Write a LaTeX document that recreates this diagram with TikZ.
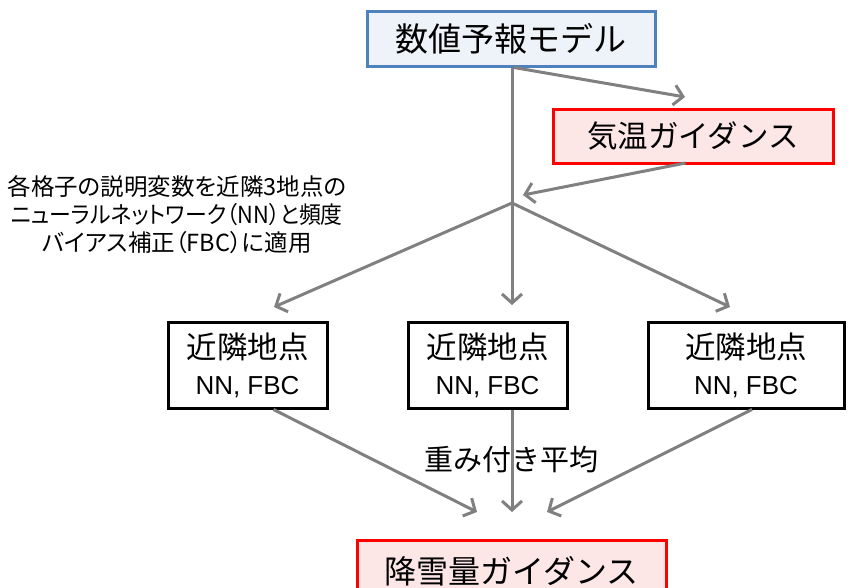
\documentclass[tikz,border=0pt]{standalone}
\usepackage{fontspec}
\setmainfont{Noto Sans CJK JP}
\newfontfamily\latinfont{Liberation Sans}
\newfontfamily\notefont[RawFeature=+palt]{Noto Sans CJK JP}
\usetikzlibrary{arrows.meta}
\definecolor{arrowgray}{HTML}{808080}
\definecolor{bluebd}{HTML}{4F81BD}
\definecolor{bluefill}{HTML}{EEF3F9}
\definecolor{redfill}{HTML}{FDE6E6}
\tikzset{
  box/.style={draw, line width=3pt, inner sep=0pt, align=center, text=black},
  bluebox/.style={box, draw=bluebd, fill=bluefill},
  redbox/.style={box, draw=red, fill=redfill},
  blackbox/.style={box, draw=black, fill=white, minimum height=86pt,
    font=\fontsize{30.5}{36}\selectfont},
  conn/.style={draw=arrowgray, line width=3pt},
  arr/.style={conn, -{Straight Barb[length=9pt,width=20pt,line width=3pt]}},
}
\newcommand{\nnfbc}{{\latinfont\fontsize{26}{36}\selectfont NN, FBC}}
\begin{document}
\begin{tikzpicture}[x=1pt,y=-1pt]
\useasboundingbox (0,0) rectangle (851,587);
\clip (0,0) rectangle (851,587);

\node[bluebox, minimum width=288pt, minimum height=55pt,
  font=\fontsize{33}{38}\selectfont] (nwp) at (511,38.5) {数値予報モデル};
\node[redbox, minimum width=280pt, minimum height=54pt,
  font=\fontsize{30.5}{36}\selectfont] (temp) at (693,136) {気温ガイダンス};

\node[align=center, inner sep=0pt, font=\notefont\fontsize{23.5}{28}\selectfont] (note) at (177,215)
  {各格子の説明変数を近隣3地点の\\\scalebox{0.93}[1]{ニューラルネットワーク（NN）と頻度}\\バイアス補正（FBC）に適用};

\node[blackbox, minimum width=159pt] (b1) at (247.5,365) {近隣地点\\\nnfbc};
\node[blackbox, minimum width=159pt] (b2) at (487.5,365) {近隣地点\\\nnfbc};
\node[blackbox, minimum width=196pt] (b3) at (746,365) {近隣地点\\\nnfbc};

\node[redbox, minimum width=309pt, minimum height=62pt,
  font=\fontsize{32}{37}\selectfont] (snow) at (511.5,571)
  {\raisebox{2pt}{降雪量ガイダンス}};
\node[inner sep=0pt, font=\fontsize{29}{34}\selectfont] (wavg) at (511,460) {重み付き平均};

\coordinate (branch) at (512,203);
\coordinate (t1) at (685,97);
\coordinate (t2) at (523,195);
\coordinate (t3) at (274,307);
\coordinate (t4) at (512,305);
\coordinate (t5) at (730,307);
\coordinate (t6) at (477,512);
\coordinate (t7) at (512,512);
\coordinate (t8) at (547,512);

\path[conn] (nwp.south -| branch) -- (branch);
\path[arr] ([xshift=3pt]nwp.south) -- (t1);
\path[arr] (temp.south west) ++(134,-1.5) coordinate (ts) (ts) -- (t2);
\path[arr] (branch) -- (t3);
\path[arr] (branch) -- (t4);
\path[arr] (branch) -- (t5);
\path[arr] ([xshift=26pt]b1.south) -- (t6);
\path[arr] ([xshift=24.5pt]b2.south) -- (t7);
\path[arr] ([xshift=6pt]b3.south) -- (t8);
\end{tikzpicture}
\end{document}
